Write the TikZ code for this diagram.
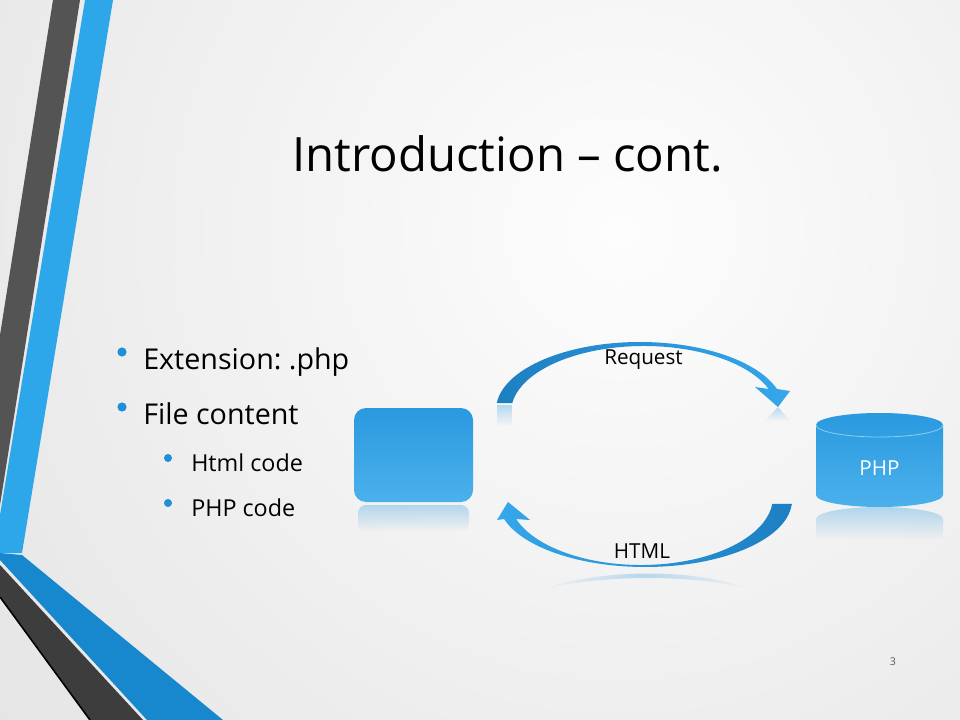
\documentclass[tikz,border=0pt]{standalone}
\usepackage{fontspec}
\setmainfont{Open Sans}
\usetikzlibrary{calc,fadings}
\frenchspacing

\definecolor{bgin}{HTML}{FDFDFD}
\definecolor{bgout}{HTML}{D0D0D0}
\definecolor{stripeblue}{HTML}{2EA7EA}
\definecolor{stripedeep}{HTML}{1888CE}
\definecolor{stripegray}{HTML}{545454}
\definecolor{stripedark}{HTML}{3D3D3D}
\definecolor{dotblue}{HTML}{1F8FD8}
\definecolor{shapetop}{HTML}{2A99DF}
\definecolor{shapebot}{HTML}{4BB1EC}
\definecolor{arrowdark}{HTML}{1C7FC2}
\definecolor{arrowlight}{HTML}{35A7EA}
\definecolor{rimline}{HTML}{8CCDF2}

\tikzfading[name=fadedown, top color=transparent!68, bottom color=transparent!100]
\tikzfading[name=fadesides, left color=transparent!100, right color=transparent!100, middle color=transparent!70]

\begin{document}
\begin{tikzpicture}[x=0.75pt,y=-0.75pt,
  lone/.style={font=\fontsize{21.5}{26}\selectfont,anchor=base west,inner sep=0pt},
  ltwo/.style={font=\fontsize{17.5}{21}\selectfont,anchor=base west,inner sep=0pt},
  tag/.style={font=\fontsize{15.5}{18}\selectfont,anchor=base,inner sep=0pt},
  mirror/.style={fill=shapetop,path fading=fadedown}]
\useasboundingbox (0,0) rectangle (960,720);

% background
\begin{scope}
\clip (0,0) rectangle (960,720);
\shade[inner color=bgin,outer color=bgout] (620,230) circle (1500);
\end{scope}

% stripes on the left
\fill[stripegray] (53,0) -- (80,0) -- (0,505) -- (0,335) -- cycle;
\fill[stripeblue] (85,0) -- (113,0) -- (22,553) -- (0,553) -- (0,515) -- cycle;
\fill[stripedeep] (0,553) -- (22,555) -- (223,720) -- (147,720) -- (0,560) -- cycle;
\fill[stripedark] (0,565) -- (143,720) -- (90,720) -- (0,597) -- cycle;
\draw[black,line width=1.2pt] (0,597) -- (90,720);

% title and bullets
\node[font=\fontsize{35.5}{42}\selectfont,anchor=base,inner sep=0pt] (title) at (507.5,172) {Introduction -- cont.};

\node[lone] (ext) at (143,369) {Extension: .php};
\node[lone] (filec) at (143,424) {File content};
\node[ltwo] (htmlc) at (191,471) {Html code};
\node[ltwo] (phpc) at (191,516) {PHP code};
\fill[dotblue] (122,352) circle (4.6) (122,407) circle (4.6);
\fill[dotblue] (168,458) circle (4) (168,503) circle (4);

% client box
\node[rounded corners=9pt,top color=shapetop,bottom color=shapebot,
  minimum width=89.25pt,minimum height=70.5pt,inner sep=0pt] (client) at (413.5,455) {};
\fill[mirror,rounded corners=6pt] (358,505) rectangle (469,532);

% server cylinder
\shade[top color=shapetop,bottom color=shapebot]
  (816,425) -- (816,495) arc (180:0:63.5 and 12) -- (943,425) arc (0:-180:63.5 and 12) -- cycle;
\draw[rimline,line width=.6pt] (816,425) arc (180:0:63.5 and 12);
\node[tag,white] (server) at (879.5,475) {PHP};
\fill[mirror] (816,519) arc (180:360:63.5 and 12) -- (943,540) -- (816,540) -- cycle;

% request arrow
\coordinate (ro) at (640,410);
\coordinate (ri) at (644,412);
\shade[left color=arrowdark,right color=arrowlight]
  ($(ro)+(185.9:144 and 68)$) arc (185.9:342:144 and 68)
  -- (790,391) -- (778,407) -- (755,387)
  -- ($(ri)+(339.6:133 and 66)$) arc (339.6:187.8:133 and 66) -- cycle;
\fill[mirror] (497,405) rectangle (512,426);
\fill[mirror] (778,407) -- (790,421) -- (765,421) -- cycle;
\node[tag] (req) at (643.5,364) {Request};

% html arrow
\coordinate (ho) at (645,500);
\coordinate (hi) at (641,497);
\shade[left color=arrowlight,right color=arrowdark]
  ($(ho)+(3.4:147 and 67)$) arc (3.4:163.5:147 and 67)
  -- (497,520) -- (508,502) -- (530,520)
  -- ($(hi)+(161.1:132 and 68)$) arc (161.1:5.9:132 and 68) -- cycle;
\fill[shapetop,path fading=fadesides] (540,590) .. controls (600,568) and (700,568) .. (750,590)
  .. controls (700,574) and (600,574) .. (540,590) -- cycle;
\node[tag] (html) at (642,558) {HTML};

% page number
\node[font=\fontsize{8}{10}\selectfont,text=black!65,inner sep=0pt] (pageno) at (893,662) {3};

\end{tikzpicture}
\end{document}
